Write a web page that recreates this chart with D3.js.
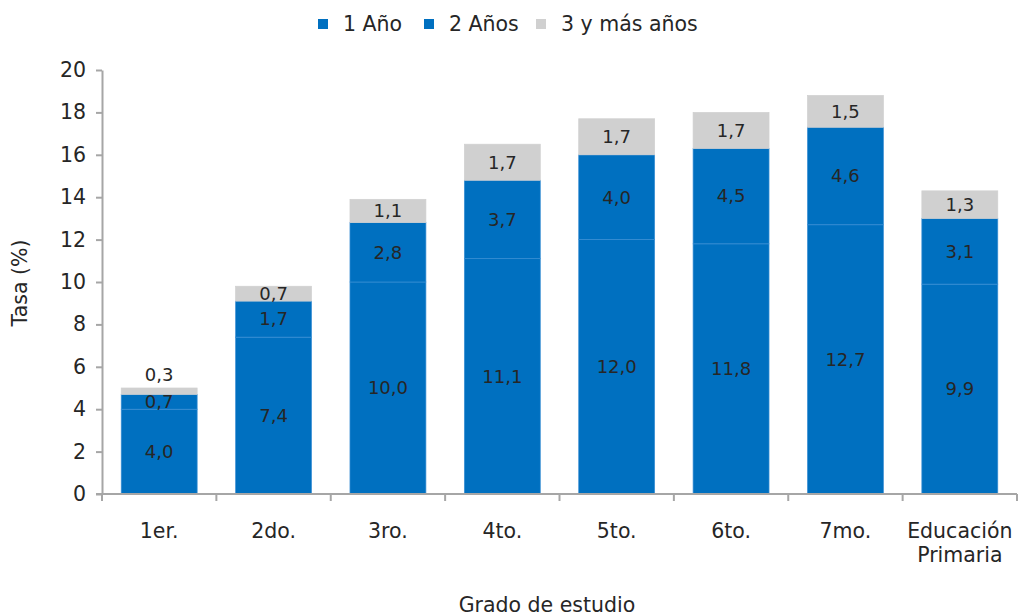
<!DOCTYPE html>
<html>
<head>
<meta charset="utf-8">
<script src="https://cdn.jsdelivr.net/npm/d3@7"></script>
<style>
  body { margin: 0; background: #fff; }
  text { font-family: "DejaVu Sans", Verdana, sans-serif; fill: #262626; }
</style>
</head>
<body>
<div id="chart"></div>
<script>
var grados = ["1er.", "2do.", "3ro.", "4to.", "5to.", "6to.", "7mo.", "Educación Primaria"];
var unAnio = [4.0, 7.4, 10.0, 11.1, 12.0, 11.8, 12.7, 9.9];
var dosAnios = [0.7, 1.7, 2.8, 3.7, 4.0, 4.5, 4.6, 3.1];
var tresMas = [0.3, 0.7, 1.1, 1.7, 1.7, 1.7, 1.5, 1.3];
var series = ["1 Año", "2 Años", "3 y más años"];
var yTicks = [0, 2, 4, 6, 8, 10, 12, 14, 16, 18, 20];

var width = 1018,
    height = 616;

var colors = ["#0070c0", "#0070c0", "#d0d0d0"];

var svg = d3.select("#chart")
    .append("svg")
    .attr("width", width)
    .attr("height", height);

var x = d3.scaleBand()
    .domain(grados)
    .range([102, 1017])
    .paddingInner(0.336)
    .paddingOuter(0.168);

var y = d3.scaleLinear()
    .domain([0, 20])
    .range([494, 70]);

var rows = grados.map(function(g, i) {
  return {grado: g, "1 Año": unAnio[i], "2 Años": dosAnios[i], "3 y más años": tresMas[i]};
});

var stacked = d3.stack().keys(series)(rows);

// bars
var layer = svg.selectAll(".layer")
    .data(stacked)
    .enter().append("g")
      .attr("class", "layer");

layer.selectAll("rect")
    .data(function(d, i) { return d.map(function(p) { return {p: p, i: i}; }); })
    .enter().append("rect")
      .attr("x", function(d) { return x(d.p.data.grado); })
      .attr("y", function(d) { return y(d.p[1]); })
      .attr("width", x.bandwidth())
      .attr("height", function(d) { return y(d.p[0]) - y(d.p[1]); })
      .style("fill", function(d) { return colors[d.i]; })
      .style("stroke", function(d) { return d.i < 2 ? "#3b8fd4" : "#d0d0d0"; })
      .style("stroke-width", 0.7);

// value labels
layer.selectAll("text")
    .data(function(d) { return d; })
    .enter().append("text")
      .attr("x", function(d) { return x(d.data.grado) + x.bandwidth() / 2; })
      .attr("y", function(d) {
        var h = y(d[0]) - y(d[1]);
        return h < 10 ? y(d[1]) - 13 : (y(d[0]) + y(d[1])) / 2;
      })
      .attr("dy", ".35em")
      .attr("text-anchor", "middle")
      .style("font-size", "18px")
      .text(function(d) { return d3.format(".1f")(d[1] - d[0]).replace(".", ","); });

// y axis
var yAxis = svg.append("g")
    .attr("transform", "translate(102,0)")
    .call(d3.axisLeft(y).tickValues(yTicks).tickSize(6).tickPadding(10).tickSizeOuter(0));

yAxis.selectAll("text").style("font-size", "20.5px");

// x axis
var xAxis = svg.append("g")
    .attr("transform", "translate(0,494)")
    .call(d3.axisBottom(x).tickSize(0).tickPadding(0).tickSizeOuter(0));

xAxis.selectAll(".tick text").remove();

xAxis.selectAll(".sep")
    .data(grados.concat(["end"]))
    .enter().append("line")
      .attr("class", "sep")
      .attr("x1", function(d, i) { return 102 + i * x.step(); })
      .attr("x2", function(d, i) { return 102 + i * x.step(); })
      .attr("y1", 0)
      .attr("y2", 7);

svg.selectAll(".domain, .tick line, .sep")
    .style("stroke", "#a6a6a6")
    .style("stroke-width", 2);

xAxis.select(".domain").attr("d", "M96,0H1017");

svg.selectAll(".xlab")
    .data(grados)
    .enter().append("text")
      .attr("class", "xlab")
      .attr("text-anchor", "middle")
      .style("font-size", "20.5px")
      .each(function(d) {
        var t = d3.select(this);
        var parts = d === "Educación Primaria" ? ["Educación", "Primaria"] : [d];
        parts.forEach(function(p, k) {
          t.append("tspan")
            .attr("x", x(d) + x.bandwidth() / 2)
            .attr("y", 538 + k * 24)
            .text(p);
        });
      });

// axis titles
svg.append("text")
    .attr("transform", "translate(27,283) rotate(-90)")
    .attr("text-anchor", "middle")
    .style("font-size", "20.5px")
    .text("Tasa (%)");

svg.append("text")
    .attr("x", 547)
    .attr("y", 612)
    .attr("text-anchor", "middle")
    .style("font-size", "20.5px")
    .text("Grado de estudio");

// legend
var legendX = [318, 424, 536];
var legend = svg.selectAll(".legend")
    .data(series)
    .enter().append("g")
      .attr("class", "legend")
      .attr("transform", function(d, i) { return "translate(" + legendX[i] + ",24)"; });

legend.append("rect")
    .attr("x", 0)
    .attr("y", -5)
    .attr("width", 10)
    .attr("height", 10)
    .style("fill", function(d, i) { return colors[i]; });

legend.append("text")
    .attr("x", 25)
    .attr("y", 0)
    .attr("dy", ".35em")
    .style("font-size", "20.5px")
    .text(function(d) { return d; });
</script>
</body>
</html>
